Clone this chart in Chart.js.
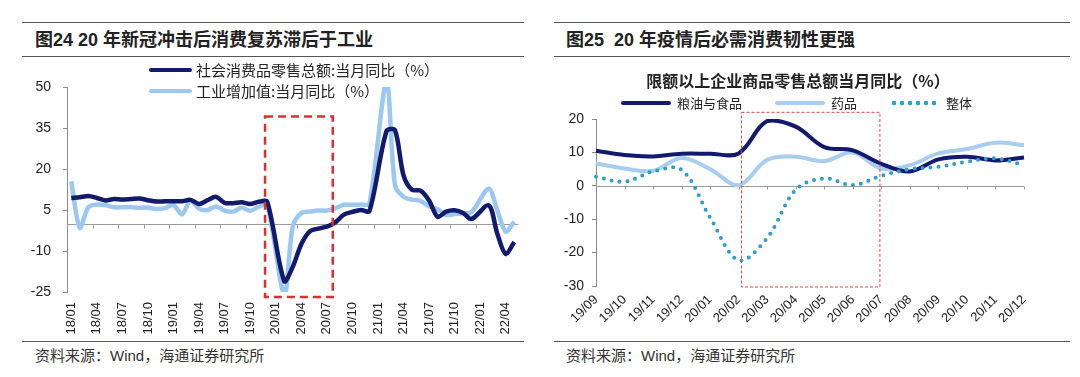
<!DOCTYPE html>
<html lang="zh-CN">
<head>
<meta charset="utf-8">
<title>消费复苏与必需消费</title>
<script src="https://cdn.jsdelivr.net/npm/chart.js@4.4.1/dist/chart.umd.min.js"></script>
<style>
    html, body { margin: 0; padding: 0; background: #fff; }
    body {
        width: 1080px; height: 377px; position: relative; overflow: hidden;
        font-family: "Liberation Sans", "Noto Sans CJK SC", sans-serif; color: #222;
    }
    .rule { position: absolute; height: 0; border-top: 1.5px solid #555; }
    .fig-title { position: absolute; top: 28px; font-size: 18px; font-weight: bold; line-height: 24px; white-space: nowrap; }
    .source { position: absolute; top: 346px; font-size: 15px; line-height: 20px; color: #333; white-space: nowrap; }
    .chart-title { position: absolute; left: 598px; width: 400px; top: 70px; text-align: center;
                   font-family: "Noto Sans CJK SC", sans-serif; font-size: 16px; font-weight: bold; line-height: 20px; }
    canvas { position: absolute; top: 0; }
    .legend { position: absolute; display: flex; font-family: "Noto Sans CJK SC", sans-serif; white-space: nowrap; }
    .legend-item { display: flex; align-items: center; }
    .swatch { display: inline-block; border-radius: 2px; }
    #legendLeft { left: 149px; top: 59px; flex-direction: column; font-size: 15px; line-height: 21px; }
    #legendLeft .swatch { width: 43px; height: 4px; margin-right: 4px; }
    #legendRight { left: 621px; top: 93px; flex-direction: row; gap: 33px; font-size: 13px; line-height: 20px; }
    #legendRight .swatch { width: 50px; height: 4px; margin-right: 6px; }
</style>
</head>
<body>
    <div class="rule" style="left:22px; top:22px; width:502px;"></div>
    <div class="fig-title" style="left:35px;">图24 20 年新冠冲击后消费复苏滞后于工业</div>
    <div class="rule" style="left:22px; top:56px; width:502px;"></div>
    <div class="rule" style="left:22px; top:341px; width:502px;"></div>
    <div class="source" style="left:35px;">资料来源：Wind，海通证券研究所</div>

    <div class="rule" style="left:554px; top:22px; width:516px;"></div>
    <div class="fig-title" style="left:566px;">图25&nbsp;&nbsp;20 年疫情后必需消费韧性更强</div>
    <div class="rule" style="left:554px; top:56px; width:516px;"></div>
    <div class="rule" style="left:554px; top:341px; width:516px;"></div>
    <div class="source" style="left:566px;">资料来源：Wind，海通证券研究所</div>

    <canvas id="chartLeft" width="540" height="340" style="left:0;"></canvas>
    <canvas id="chartRight" width="540" height="340" style="left:540px;"></canvas>

    <div class="chart-title">限额以上企业商品零售总额当月同比（%）</div>
    <div class="legend" id="legendLeft"></div>
    <div class="legend" id="legendRight"></div>

<script>
// ---- 图24: 社零 vs 工业增加值 (当月同比, %)
const leftMonths = [
    '18/01','18/02','18/03','18/04','18/05','18/06','18/07','18/08','18/09','18/10','18/11','18/12',
    '19/01','19/02','19/03','19/04','19/05','19/06','19/07','19/08','19/09','19/10','19/11','19/12',
    '20/01','20/02','20/03','20/04','20/05','20/06','20/07','20/08','20/09','20/10','20/11','20/12',
    '21/01','21/02','21/03','21/04','21/05','21/06','21/07','21/08','21/09','21/10','21/11','21/12',
    '22/01','22/02','22/03','22/04','22/05'
];
const retailSales = [
    9.4, 9.7, 10.1, 9.4, 8.5, 9.0, 8.8, 9.0, 9.2, 8.6, 8.1, 8.2,
    8.2, 8.2, 8.7, 7.2, 8.6, 9.8, 7.6, 7.5, 7.8, 7.2, 8.0, 8.0,
    null, -21.0, -15.8, -7.5, -2.8, -1.8, -1.1, 0.5, 3.3, 4.3, 5.0, 4.6,
    null, 33.8, 34.2, 17.7, 12.4, 12.1, 8.5, 2.5, 4.4, 4.9, 3.9, 1.7,
    null, 6.7, -3.5, -11.1, -6.7
];
const industryOutput = [
    15.5, -1.5, 6.0, 7.0, 6.8, 6.0, 6.0, 6.1, 5.8, 5.9, 5.4, 5.7,
    6.8, 3.4, 8.5, 5.4, 5.0, 6.3, 4.8, 4.4, 5.8, 4.7, 6.2, 6.9,
    null, -25.9, -1.1, 3.9, 4.4, 4.8, 4.8, 5.6, 6.9, 6.9, 7.0, 7.3,
    null, 52.0, 14.1, 9.8, 8.8, 8.3, 6.4, 5.3, 3.1, 3.5, 3.8, 4.3,
    null, 12.8, 5.0, -2.9, 0.7
];
const leftYTicks = [-25, -10, 5, 20, 35, 50];

// ---- 图25: 限额以上企业商品零售总额当月同比 (%)
const rightMonths = ['19/09','19/10','19/11','19/12','20/01','20/02','20/03','20/04',
                     '20/05','20/06','20/07','20/08','20/09','20/10','20/11','20/12'];
const grainFood = [10.5, 9.2, 8.8, 9.6, 9.6, 9.7, 19.4, 17.7, 11.6, 10.6, 6.6, 4.3, 7.9, 8.7, 7.6, 8.5];
const medicine  = [6.7, 5.2, 4.5, 8.3, 5.0, 0.2, 7.8, 8.7, 7.4, 10.0, 5.2, 6.2, 9.7, 11.0, 12.9, 12.2];
const overall   = [2.7, 1.2, 4.3, 4.8, -9.5, -22.3, -15.6, -1.2, 2.2, 0.2, 3.0, 5.0, 5.7, 7.2, 8.2, 6.2];
const rightYTicks = [-30, -20, -10, 0, 10, 20];

const NAVY = '#111a6c';
const tickFont = { family: 'Liberation Sans', size: 14 };

// zero line with small tick marks, plus the red dashed highlight box
const axisDecor = {
    id: 'axisDecor',
    beforeDatasetsDraw(chart, args, opts) {
        const { ctx, chartArea, scales: { x, y } } = chart;
        const y0 = Math.round(y.getPixelForValue(0)) + 0.5;
        ctx.save();
        ctx.strokeStyle = '#9a9a9a';
        ctx.lineWidth = 1;
        ctx.beginPath();
        ctx.moveTo(chartArea.left, y0);
        ctx.lineTo(chartArea.right, y0);
        opts.tickValues.forEach(v => {
            const px = Math.round(x.getPixelForValue(v)) + 0.5;
            ctx.moveTo(px, y0);
            ctx.lineTo(px, y0 + opts.tickLen);
        });
        ctx.stroke();
        ctx.restore();
    },
    afterDatasetsDraw(chart, args, opts) {
        const { ctx, scales: { x, y } } = chart;
        const b = opts.box;
        const left = x.getPixelForValue(b.x0);
        const right = x.getPixelForValue(b.x1);
        const top = y.getPixelForValue(b.yTop);
        const bottom = y.getPixelForValue(b.yBottom);
        ctx.save();
        ctx.strokeStyle = b.color;
        ctx.lineWidth = b.width;
        ctx.setLineDash(b.dash);
        ctx.strokeRect(left, top, right - left, bottom - top);
        ctx.restore();
    }
};

function buildLegend(chart, containerId) {
    const box = document.getElementById(containerId);
    box.innerHTML = '';
    chart.data.datasets.forEach(ds => {
        const item = document.createElement('div');
        item.className = 'legend-item';
        const swatch = document.createElement('span');
        swatch.className = 'swatch';
        if (ds.borderDash && ds.borderDash.length) {
            swatch.style.height = '6px';
            swatch.style.background = `radial-gradient(circle, ${ds.borderColor} 2px, transparent 2.6px) 0 50% / 8px 6px repeat-x`;
        } else {
            swatch.style.background = ds.borderColor;
        }
        const text = document.createElement('span');
        text.textContent = ds.label;
        item.append(swatch, text);
        box.appendChild(item);
    });
}

function leftChart() {
    const boundaryTicks = [];
    for (let i = 0; i < leftMonths.length; i += 3) boundaryTicks.push(i - 0.5);

    const chart = new Chart(document.getElementById('chartLeft'), {
        type: 'line',
        data: {
            labels: leftMonths,
            datasets: [
                { label: '社会消费品零售总额:当月同比（%）', data: retailSales, borderColor: NAVY,
                  borderWidth: 4.5, tension: 0.3, pointRadius: 0, spanGaps: true },
                { label: '工业增加值:当月同比（%）', data: industryOutput, borderColor: '#9cc8f0',
                  borderWidth: 4.5, tension: 0.3, pointRadius: 0, spanGaps: true }
            ]
        },
        options: {
            responsive: false,
            animation: false,
            events: [],
            layout: { padding: { top: 87, right: 18, left: 0, bottom: 0 } },
            plugins: {
                legend: { display: false },
                tooltip: { enabled: false },
                axisDecor: {
                    tickValues: boundaryTicks,
                    tickLen: 4,
                    box: { x0: 22.75, x1: 30.7, yTop: 39.2, yBottom: -26.8, color: '#dc2f2f', width: 2.5, dash: [8, 5] }
                }
            },
            scales: {
                x: {
                    offset: true,
                    grid: { display: false, drawTicks: false },
                    border: { display: false },
                    ticks: {
                        autoSkip: false, minRotation: 90, maxRotation: 90, padding: 10,
                        font: { family: 'Liberation Sans', size: 13 }, color: '#222',
                        callback: (value, index) => index % 3 === 0 ? leftMonths[index] : ''
                    },
                    afterFit(scale) { scale.height = 48; }
                },
                y: {
                    min: leftYTicks[0],
                    max: leftYTicks[leftYTicks.length - 1],
                    ticks: { stepSize: leftYTicks[1] - leftYTicks[0], font: tickFont, color: '#222', padding: 12 },
                    grid: { drawOnChartArea: false, tickLength: 4, color: '#8a8a8a' },
                    border: { color: '#8a8a8a' },
                    afterFit(scale) { scale.width = 67; }
                }
            }
        },
        plugins: [axisDecor]
    });
    buildLegend(chart, 'legendLeft');
}

function rightChart() {
    const chart = new Chart(document.getElementById('chartRight'), {
        type: 'line',
        data: {
            labels: rightMonths,
            datasets: [
                { label: '粮油与食品', data: grainFood, borderColor: NAVY, borderWidth: 4,
                  tension: 0.35, pointRadius: 0, order: 1 },
                { label: '药品', data: medicine, borderColor: '#a8cdef', borderWidth: 4,
                  tension: 0.35, pointRadius: 0, order: 2 },
                { label: '整体', data: overall, borderColor: '#2f9bcf', borderWidth: 4,
                  borderDash: [0, 8], borderCapStyle: 'round', tension: 0.35, pointRadius: 0, order: 0 }
            ]
        },
        options: {
            responsive: false,
            animation: false,
            events: [],
            layout: { padding: { top: 119, right: 56, left: 0, bottom: 0 } },
            plugins: {
                legend: { display: false },
                tooltip: { enabled: false },
                axisDecor: {
                    tickValues: rightMonths.map((m, i) => i),
                    tickLen: 3,
                    box: { x0: 5.1, x1: 9.95, yTop: 22, yBottom: -30.3, color: '#e04848', width: 1, dash: [3, 2] }
                }
            },
            scales: {
                x: {
                    grid: { display: false, drawTicks: false },
                    border: { display: false },
                    ticks: {
                        autoSkip: false, minRotation: 45, maxRotation: 45, padding: 6,
                        font: { family: 'Liberation Sans', size: 13 }, color: '#222'
                    },
                    afterFit(scale) { scale.height = 54; }
                },
                y: {
                    min: rightYTicks[0],
                    max: rightYTicks[rightYTicks.length - 1],
                    ticks: { stepSize: rightYTicks[1] - rightYTicks[0], font: tickFont, color: '#222', padding: 8 },
                    grid: { drawOnChartArea: false, tickLength: 4, color: '#8a8a8a' },
                    border: { color: '#8a8a8a' },
                    afterFit(scale) { scale.width = 56; }
                }
            }
        },
        plugins: [axisDecor]
    });
    buildLegend(chart, 'legendRight');
}

leftChart();
rightChart();
</script>
</body>
</html>
